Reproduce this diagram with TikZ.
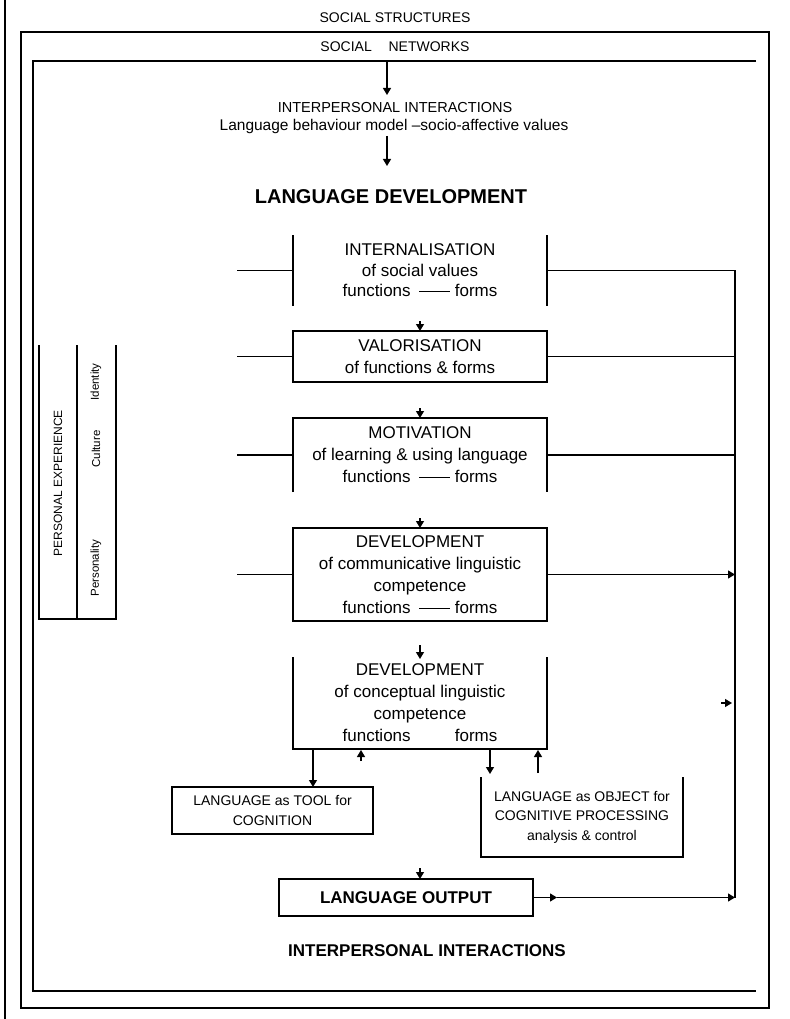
\documentclass[tikz,border=0pt]{standalone}
\usepackage{fontspec}
\setmainfont{Liberation Sans}
\usetikzlibrary{arrows.meta}
\newcommand{\fndash}{\hspace{0.5em}\rule[0.3em]{1.8em}{0.7pt}\hspace{0.3em}}
\begin{document}
\begin{tikzpicture}[x=1pt,y=-1pt,
  every node/.style={inner sep=0pt, outer sep=0pt},
  ln/.style={line width=1.3pt},
  frame/.style={line width=1.4pt},
  arr/.style={line width=1.3pt,-{Triangle[length=7pt,width=8pt]}},
  title/.style={font=\fontsize{14}{16}\selectfont},
  boxtxt/.style={font=\fontsize{17}{22}\selectfont, align=center, minimum width=254pt},
  smalltxt/.style={font=\fontsize{14}{19.5}\selectfont, align=center},
  vtxt/.style={rotate=90, font=\fontsize{11.5}{14}\selectfont}
]
\useasboundingbox (0,0) rectangle (789,1019);

% frames
\draw[frame] (5,0) -- (5,1019);
\draw[frame] (21,32) rectangle (769,1008);
\draw[frame] (756,61) -- (33,61) -- (33,991) -- (756,991);

% titles
\node[title] (ss) at (395,18) {SOCIAL STRUCTURES};
\node[title] (sn) at (395,47) {SOCIAL\hspace{1.2em}NETWORKS};
\node[font=\fontsize{14.5}{17}\selectfont] (ii) at (395,108) {INTERPERSONAL INTERACTIONS};
\node[font=\fontsize{15.5}{17}\selectfont] (lb) at (394,126) {Language behaviour model –socio-affective values};
\node[font=\bfseries\fontsize{20}{24}\selectfont] (ld) at (391,197) {LANGUAGE DEVELOPMENT};

\coordinate (a1s) at (387,62);
\coordinate (a1e) at (387,95);
\coordinate (a2s) at (387,136);
\coordinate (a2e) at (387,166);
\draw[arr] (a1s) -- (a1e);
\draw[arr] (a2s) -- (a2e);

% main column
\node[boxtxt, font=\fontsize{17}{20.5}\selectfont, minimum height=71pt] (intern) at (420,270.5)
  {INTERNALISATION\\of social values\\functions\fndash forms};
\node[boxtxt, draw, ln, minimum height=51pt] (valor) at (420,356.5)
  {VALORISATION\\of functions \& forms};
\node[boxtxt, minimum height=74pt] (motiv) at (420,455)
  {MOTIVATION\\of learning \& using language\\functions\fndash forms};
\node[boxtxt, draw, ln, minimum height=93pt] (dev1) at (420,574.5)
  {DEVELOPMENT\\of communicative linguistic\\competence\\functions\fndash forms};
\node[boxtxt, minimum height=92pt] (dev2) at (420,703)
  {DEVELOPMENT\\of conceptual linguistic\\competence\\functions\phantom{\fndash}forms};

\draw[ln] (intern.north west) -- (intern.south west);
\draw[ln] (intern.north east) -- (intern.south east);
\draw[ln] (motiv.south west) -- (motiv.north west) -- (motiv.north east) -- (motiv.south east);
\draw[ln] (dev2.north west) -- (dev2.south west) -- (dev2.south east) -- (dev2.north east);

% small arrowheads above boxes
\coordinate (v0) at (420,321);
\coordinate (m0) at (420,408);
\coordinate (c0) at (420,518);
\coordinate (k0) at (420,645);
\coordinate (o0) at (420,868);
\coordinate (o1) at (420,879);
\draw[arr] (v0) -- (valor.north);
\draw[arr] (m0) -- (motiv.north);
\draw[arr] (c0) -- (dev1.north);
\draw[arr] (k0) -- ([yshift=-2pt]dev2.north);

% left side lines
\coordinate (L1) at (237,270.5);
\coordinate (L2) at (237,356.5);
\coordinate (L3) at (237,455);
\coordinate (L4) at (237,574.5);
\draw[ln] (L1) -- (intern.west);
\draw[ln] (L2) -- (valor.west);
\draw[ln] (L3) -- (motiv.west);
\draw[ln] (L4) -- (dev1.west);

% right side lines
\coordinate (R1) at (735,270.5);
\coordinate (R2) at (735,356.5);
\coordinate (R3) at (735,455);
\coordinate (R4) at (735,574.5);
\coordinate (R5) at (735,897.5);
\draw[ln] (intern.east) -- (R1) -- (R5);
\draw[ln] (valor.east) -- (R2);
\draw[ln] (motiv.east) -- (R3);
\draw[arr] (dev1.east) -- (R4);
\coordinate (h1) at (721,703);
\coordinate (h2) at (732,703);
\draw[arr] (h1) -- (h2);

% lower boxes
\node[smalltxt, font=\fontsize{14}{20}\selectfont, draw, ln, minimum width=201pt, minimum height=47pt] (tool) at (272.5,810.5)
  {LANGUAGE as TOOL for\\COGNITION};
\node[smalltxt, minimum width=202pt, minimum height=80pt] (obj) at (582,817)
  {LANGUAGE as OBJECT for\\COGNITIVE PROCESSING\\analysis \& control};
\draw[ln] (obj.north west) -- (obj.south west) -- (obj.south east) -- (obj.north east);

\coordinate (d1a) at (313,749);
\coordinate (d1b) at (313,787);
\coordinate (u1a) at (361,761);
\coordinate (u1b) at (361,750);
\coordinate (d2a) at (490,749);
\coordinate (d2b) at (490,774);
\coordinate (u2a) at (538,773);
\coordinate (u2b) at (538,750);
\draw[arr] (d1a) -- (d1b);
\draw[arr] (u1a) -- (u1b);
\draw[arr] (d2a) -- (d2b);
\draw[arr] (u2a) -- (u2b);

% output
\node[draw, ln, font=\bfseries\fontsize{17}{20}\selectfont, minimum width=254pt, minimum height=37pt] (out) at (406,897.5) {LANGUAGE OUTPUT};
\draw[arr] (o0) -- (o1);
\coordinate (om) at (557,897.5);
\draw[arr] (out.east) -- (om);
\draw[arr] (om) -- (R5);
\node[font=\bfseries\fontsize{17}{20}\selectfont] (ii2) at (427,951) {INTERPERSONAL INTERACTIONS};

% personal experience
\draw[ln] (39,345) -- (39,619) -- (116,619) -- (116,345);
\draw[ln] (77,345) -- (77,619);
\node[vtxt, font=\fontsize{12}{14}\selectfont] (pe) at (58,483) {PERSONAL EXPERIENCE};
\node[vtxt] (idn) at (96,382) {Identity};
\node[vtxt] (cul) at (96,449) {Culture};
\node[vtxt] (per) at (96,568) {Personality};
\end{tikzpicture}
\end{document}
